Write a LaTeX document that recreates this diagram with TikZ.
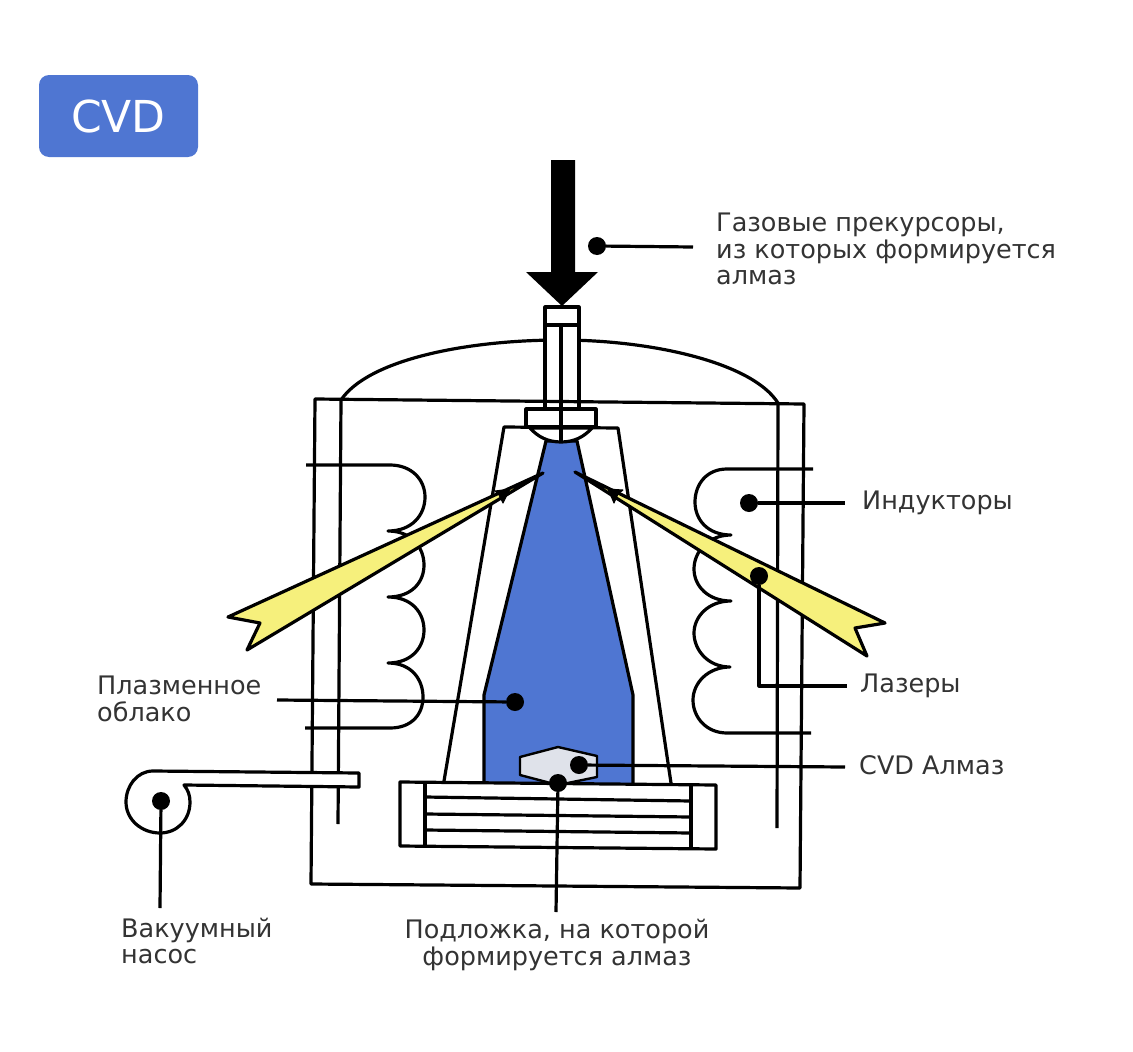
\documentclass[tikz,border=0pt]{standalone}
\usepackage{fontspec}
\setmainfont{DejaVu Sans}
\definecolor{cvdblue}{HTML}{4F76D2}
\definecolor{laseryellow}{HTML}{F6F07C}
\definecolor{diamondgrey}{HTML}{DFE2EA}
\definecolor{labelgrey}{HTML}{333333}
\tikzset{
  wire/.style={line width=3.2pt, line join=round},
  dot/.style={circle, fill=black, inner sep=0pt, minimum size=18pt},
  lbl/.style={inner sep=0pt, anchor=west, align=left, text=labelgrey,
              font=\fontsize{25.5}{26.5}\selectfont},
}
\begin{document}
\begin{tikzpicture}[x=1pt,y=-1pt]
\useasboundingbox (0,0) rectangle (1133,1052);

% badge
\node[fill=cvdblue, rounded corners=10pt, minimum width=159pt, minimum height=82pt,
      inner sep=0pt, text=white, font=\fontsize{44}{46}\selectfont] (badge) at (118.5,116) {CVD};

% gas arrow
\fill (551,160) -- (575,160) -- (575,272) -- (598,272) -- (562,306)
                -- (526,272) -- (551,272) -- cycle;

% dome and tube
\draw[wire] (341,400) .. controls (368,360) and (465,340) .. (561,340)
                      .. controls (650,340) and (752,362) .. (778,403);
\draw[wire, fill=white] (545,307) rectangle (579,410);
\draw[wire] (545,325) -- (579,325);

% reactor walls
\draw[wire] (315,399) -- (804,404)
                      -- (800,888)
                      -- (311,884)
                      -- cycle;
\draw[wire] (341,400) -- (338,824);
\draw[wire] (778,404) -- (777,828);

% coils
\draw[wire] (306,465) -- (390,465)
            .. controls (412,465) and (425,480) .. (425,497)
            .. controls (425,515) and (412,531) .. (388,531)
            .. controls (412,531) and (424,548) .. (424,565)
            .. controls (424,582) and (412,597) .. (388,597)
            .. controls (412,597) and (424,613) .. (424,630)
            .. controls (424,647) and (412,663) .. (388,663)
            .. controls (412,663) and (423,680) .. (423,697)
            .. controls (423,714) and (412,728) .. (390,728)
            -- (305,728);
\draw[wire] (813,469) -- (727,469)
            .. controls (706,469) and (695,485) .. (695,502)
            .. controls (695,520) and (708,535) .. (731,535)
            .. controls (708,535) and (694,552) .. (694,569)
            .. controls (694,586) and (708,601) .. (731,601)
            .. controls (708,601) and (694,617) .. (694,633)
            .. controls (694,650) and (708,667) .. (730,667)
            .. controls (708,667) and (693,683) .. (693,700)
            .. controls (693,717) and (706,733) .. (727,733)
            -- (811,733);

% vacuum pump
\draw[wire, fill=white] (359,773) -- (153,771)
            .. controls (137,771) and (126,786) .. (126,802)
            .. controls (126,820) and (142,833) .. (160,833)
            .. controls (177,833) and (190,820) .. (190,802)
            .. controls (190,795) and (188,790) .. (184,785)
            -- (359,787)
            -- cycle;

% chamber and plasma
\draw[wire] (444,781) -- (504,427) -- (618,428) -- (671,783);
\draw[wire, fill=cvdblue] (484,782) -- (484,695)
                                    -- (546,441)
                                    -- (577,441)
                                    -- (633,695)
                                    -- (633,784);

% nozzle
\draw[wire, fill=white] (530,428) .. controls (538,437) and (548,442) .. (561,442)
                                  .. controls (574,442) and (584,437) .. (592,428) -- cycle;
\draw[wire, fill=white] (526,409) rectangle (596,427);
\draw[wire] (561,325) -- (561,442);

% substrate
\draw[wire, fill=white] (400,782) -- (716,785)
                                  -- (716,849)
                                  -- (400,846)
                                  -- cycle;
\draw[wire] (425,782) -- (425,847);
\draw[wire] (691,785) -- (691,849);
\draw[wire] (425,797) -- (691,801);
\draw[wire] (425,814) -- (691,817);
\draw[wire] (425,830) -- (691,833);

% diamond
\draw[wire, line width=2.4pt, fill=diamondgrey] (520,757) -- (558,747)
                                                -- (597,756)
                                                -- (597,777)
                                                -- (558,785)
                                                -- (520,775)
                                                -- cycle;

% lasers
\draw[wire, fill=laseryellow] (543,473) -- (228,617)
                                        -- (260,623)
                                        -- (247,650)
                                        -- cycle;
\draw[wire, fill=laseryellow] (575,472) -- (885,623)
                                        -- (855,628)
                                        -- (867,656)
                                        -- cycle;
\filldraw[line width=1pt, line join=round] (510,489) -- (495,491) -- (499,495) -- (503,503) -- cycle;
\filldraw[line width=1pt, line join=round] (608,489) -- (623,490) -- (618,494) -- (614,503) -- cycle;

% callouts
\node[dot] (gasdot) at (597,246) {};
\coordinate (gasend) at (693,247);
\draw[wire] (gasdot) -- (gasend);
\node[lbl] (gaslbl) at (716,249) {Газовые прекурсоры,\\из которых формируется\\алмаз};

\node[dot] (coildot) at (749,503) {};
\coordinate (coilend) at (845,503);
\draw[wire] (coildot) -- (coilend);
\node[lbl] (coillbl) at (862,503) {Индукторы};

\node[dot] (laserdot) at (759,576) {};
\coordinate (laserend) at (847,686);
\draw[wire] (laserdot) |- (laserend);
\node[lbl] (laserlbl) at (860,686) {Лазеры};

\node[dot] (diamonddot) at (579,765) {};
\coordinate (diamondend) at (845,767);
\draw[wire] (diamonddot) -- (diamondend);
\node[lbl] (diamondlbl) at (859,765) {CVD Алмаз};

\node[dot] (plasmadot) at (515,702) {};
\coordinate (plasmaend) at (277,700);
\draw[wire] (plasmadot) -- (plasmaend);
\node[lbl] (plasmalbl) at (97,699) {Плазменное\\облако};

\node[dot] (pumpdot) at (161,801) {};
\coordinate (pumpend) at (160,908);
\draw[wire] (pumpdot) -- (pumpend);
\node[lbl] (pumplbl) at (121,941) {Вакуумный\\насос};

\node[dot] (substratedot) at (558,783) {};
\coordinate (substrateend) at (556,912);
\draw[wire] (substratedot) -- (substrateend);
\node[lbl, anchor=center, align=center] (substratelbl) at (557,945) {Подложка, на которой\\формируется алмаз};
\end{tikzpicture}
\end{document}
